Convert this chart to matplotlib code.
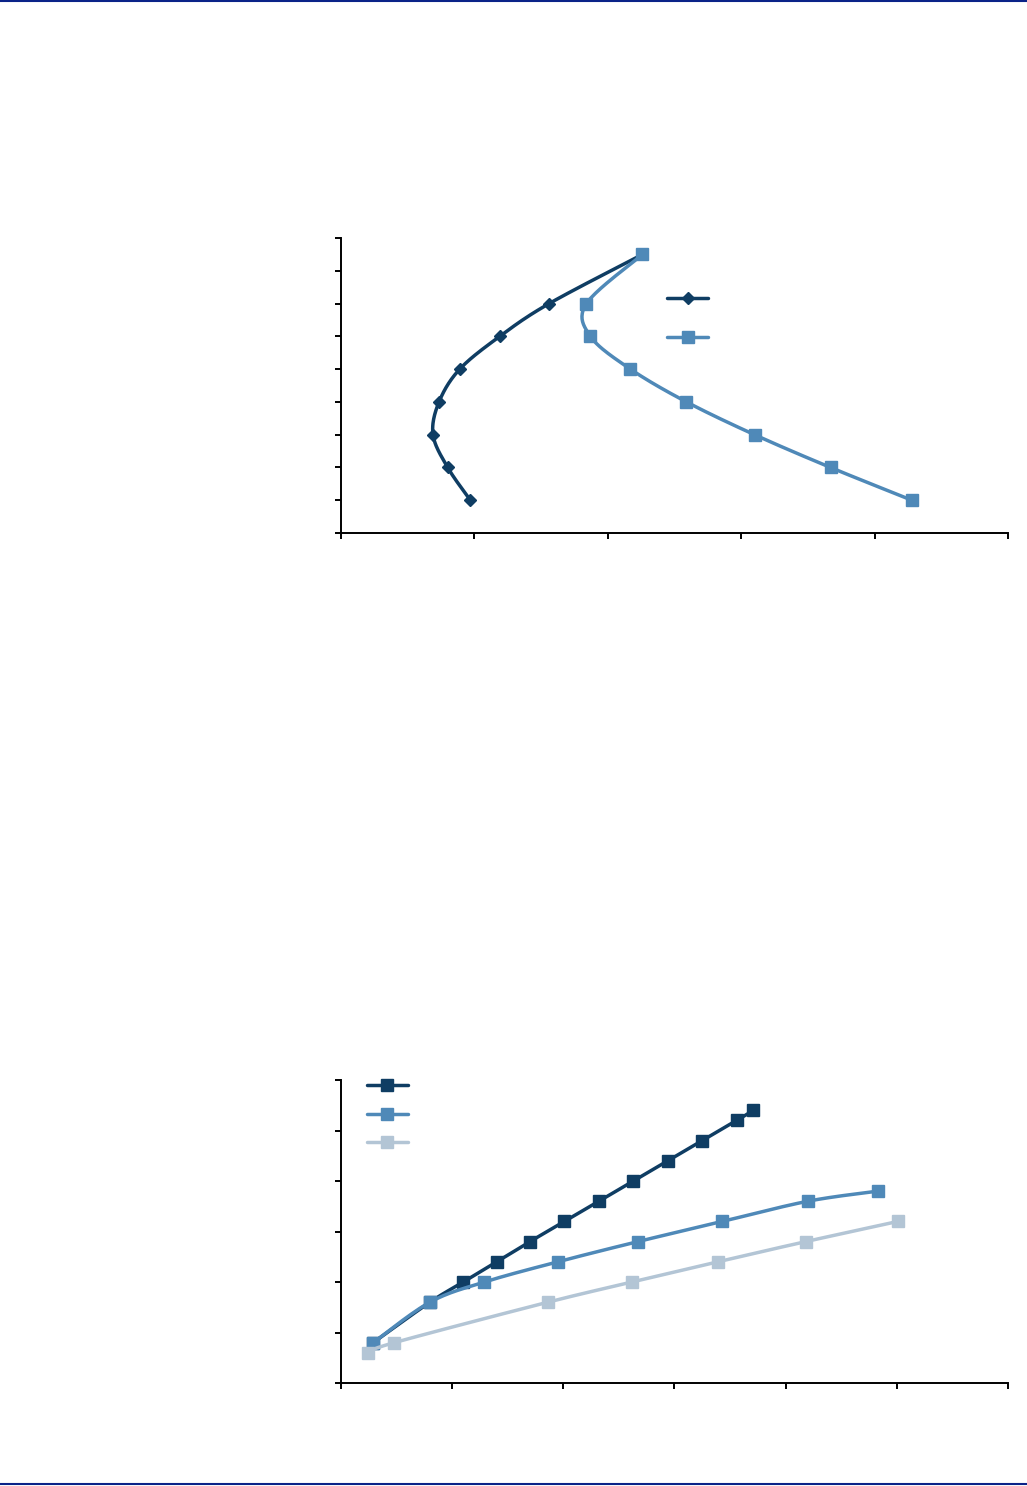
import numpy as np
import matplotlib
matplotlib.use("Agg")
import matplotlib.pyplot as plt
from matplotlib.lines import Line2D

# colours used on the page
DARK = "#0f3d63"
MID = "#4f89b8"
LIGHT = "#b3c5d5"
RULE = "#0a2388"

# chart 1: two curves, x value against level
c1_dark_x = [0.97, 0.80, 0.69, 0.735, 0.89, 1.19, 1.56, 2.26]
c1_dark_y = [1, 2, 3, 4, 5, 6, 7, 8.5]
c1_mid_x = [2.26, 1.84, 1.87, 2.17, 2.59, 3.10, 3.67, 4.28]
c1_mid_y = [8.5, 7, 6, 5, 4, 3, 2, 1]

# chart 2: three rising curves
c2_a_x = [0.29, 0.80, 1.10, 1.40, 1.70, 2.01, 2.32, 2.63, 2.94, 3.25, 3.56, 3.71]
c2_a_y = [0.8, 1.6, 2.0, 2.4, 2.8, 3.2, 3.6, 4.0, 4.4, 4.8, 5.2, 5.4]
c2_b_x = [0.29, 0.80, 1.29, 1.95, 2.67, 3.43, 4.20, 4.83]
c2_b_y = [0.8, 1.6, 2.0, 2.4, 2.8, 3.2, 3.6, 3.8]
c2_c_x = [0.24, 0.48, 1.86, 2.62, 3.39, 4.18, 5.01]
c2_c_y = [0.6, 0.8, 1.6, 2.0, 2.4, 2.8, 3.2]


# smooth line through the points (like the spreadsheet "smoothed line" option)
def smooth(x, y, sx, sy, n=24):
    p = np.column_stack([np.asarray(x) / sx, np.asarray(y) / sy])
    p = np.vstack([p[0], p, p[-1]])
    out = []
    for i in range(1, len(p) - 2):
        p0, p1, p2, p3 = p[i - 1], p[i], p[i + 1], p[i + 2]
        t = np.linspace(0, 1, n)[:, None]
        seg = 0.5 * ((2 * p1) + (-p0 + p2) * t + (2 * p0 - 5 * p1 + 4 * p2 - p3) * t ** 2
                     + (-p0 + 3 * p1 - 3 * p2 + p3) * t ** 3)
        out.append(seg)
    out = np.vstack(out)
    return out[:, 0] * sx, out[:, 1] * sy


def style_axes(ax, xmax, ymax):
    ax.set_xlim(0, xmax)
    ax.set_ylim(0, ymax)
    ax.set_xticks(range(xmax + 1))
    ax.set_yticks(range(ymax + 1))
    ax.set_xticklabels([])
    ax.set_yticklabels([])
    for s in ["top", "right"]:
        ax.spines[s].set_visible(False)
    for s in ["left", "bottom"]:
        ax.spines[s].set_linewidth(1.4)
    ax.tick_params(direction="out", length=4, width=1.4)


def series(ax, x, y, color, marker, ms, sx, sy):
    xs, ys = smooth(x, y, sx, sy)
    ax.plot(xs, ys, color=color, lw=2.5, solid_capstyle="round", clip_on=False)
    ax.plot(x, y, ls="none", marker=marker, ms=ms, color=color, clip_on=False)
    return Line2D([], [], color=color, lw=2.5, marker=marker, ms=ms, solid_capstyle="round")


fig = plt.figure(figsize=(10.27, 14.86), dpi=100)

# page rules
fig.add_artist(Line2D([0, 1], [0.9993, 0.9993], color=RULE, lw=1.5, transform=fig.transFigure))
fig.add_artist(Line2D([0, 1], [0.0013, 0.0013], color=RULE, lw=1.5, transform=fig.transFigure))

# --- chart 1
ax1 = fig.add_axes([0.332, 0.6413, 0.6495, 0.1985])
style_axes(ax1, 5, 9)
h1 = series(ax1, c1_dark_x, c1_dark_y, DARK, "D", 6, 5, 9)
h2 = series(ax1, c1_mid_x, c1_mid_y, MID, "s", 8, 5, 9)
ax1.legend([h1, h2], [" ", " "], frameon=False, loc="upper left",
           bbox_to_anchor=(0.48, 0.836), handlelength=3.0, labelspacing=1.82,
           fontsize=10, borderaxespad=0, handletextpad=0.5)

# --- chart 2
ax2 = fig.add_axes([0.332, 0.0693, 0.6495, 0.2039])
style_axes(ax2, 6, 6)
g1 = series(ax2, c2_a_x, c2_a_y, DARK, "s", 8.5, 6, 6)
g2 = series(ax2, c2_b_x, c2_b_y, MID, "s", 8.5, 6, 6)
g3 = series(ax2, c2_c_x, c2_c_y, LIGHT, "s", 8.5, 6, 6)
ax2.legend([g1, g2, g3], [" ", " ", " "], frameon=False, loc="upper left",
           bbox_to_anchor=(0.030, 1.023), handlelength=3.0, labelspacing=1.07,
           fontsize=10, borderaxespad=0, handletextpad=0.5)

fig.savefig("out.png", dpi=100, facecolor="white")
